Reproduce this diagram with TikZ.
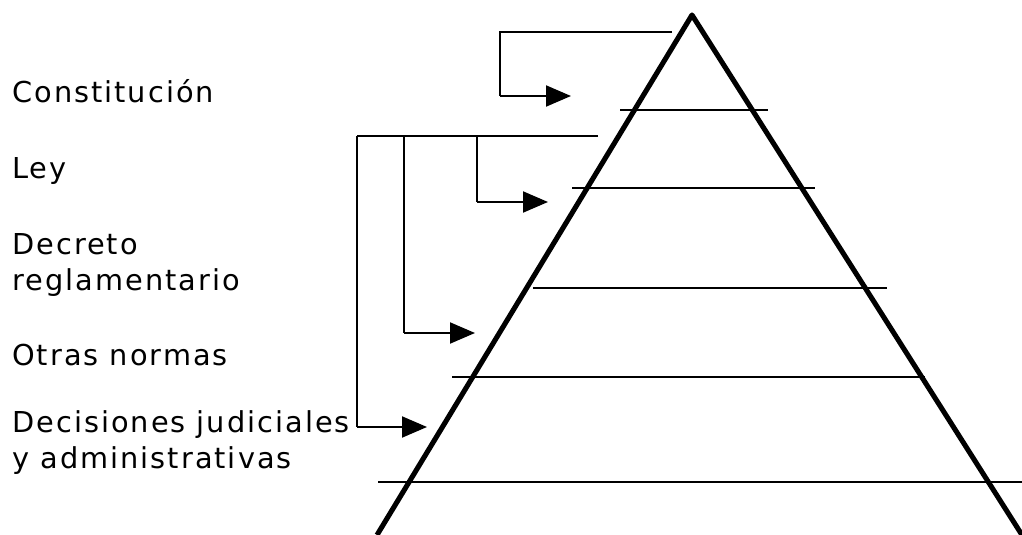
\documentclass[tikz,border=0pt]{standalone}
\usepackage{fontspec}
\newfontfamily\lblfont[LetterSpace=7]{DejaVu Sans}
\usetikzlibrary{arrows.meta}
\begin{document}
\begin{tikzpicture}[x=0.75pt,y=-0.75pt,
  thin line/.style={line width=1.5pt},
  leg/.style={line width=3.8pt},
  arr/.style={thin line,-{Triangle[length=18.75pt,width=15.75pt]}},
  lbl/.style={anchor=base west,inner sep=0pt,font=\lblfont\fontsize{21.6pt}{27pt}\selectfont,align=left}]
\useasboundingbox (0,0) rectangle (1022,535);
\begin{scope}
\clip (0,0) rectangle (1022,535);
% pyramid
\coordinate (apex) at (692,15);
\coordinate (lf) at (377,535);
\coordinate (rf) at (1022,535);
\draw[leg,line join=round] (lf) -- (apex) -- (rf);
% levels
\draw[thin line] (620,110) -- (768,110);
\draw[thin line] (572,188) -- (815,188);
\draw[thin line] (533,288) -- (887,288);
\draw[thin line] (452,377) -- (925,377);
\draw[thin line] (378,482) -- (1022,482);
\end{scope}
% labels (multi-line nodes: base = last line)
\node[lbl] (c1) at (12,103) {Constitución};
\node[lbl] (c2) at (12,179) {Ley};
\node[lbl] (c3) at (12,290) {Decreto\\reglamentario};
\node[lbl] (c4) at (12,365) {Otras normas};
\node[lbl] (c5) at (12,468) {Decisiones judiciales\\y administrativas};
% top bracket
\coordinate (t0) at (672,32);
\coordinate (t1) at (500,32);
\coordinate (t2) at (500,96);
\coordinate (t3) at (571,96);
\draw[thin line] (t0) -- (t1) -- (t2);
\draw[arr] (t2) -- (t3);
% bus
\coordinate (b0) at (598,136);
\coordinate (b1) at (477,136);
\coordinate (b2) at (404,136);
\coordinate (b3) at (357,136);
\draw[thin line] (b0) -- (b3);
\coordinate (d1) at (477,202);
\coordinate (e1) at (548,202);
\draw[thin line] (b1) -- (d1);
\draw[arr] (d1) -- (e1);
\coordinate (d2) at (404,333);
\coordinate (e2) at (475,333);
\draw[thin line] (b2) -- (d2);
\draw[arr] (d2) -- (e2);
\coordinate (d3) at (357,427);
\coordinate (e3) at (427,427);
\draw[thin line] (b3) -- (d3);
\draw[arr] (d3) -- (e3);
\end{tikzpicture}
\end{document}
